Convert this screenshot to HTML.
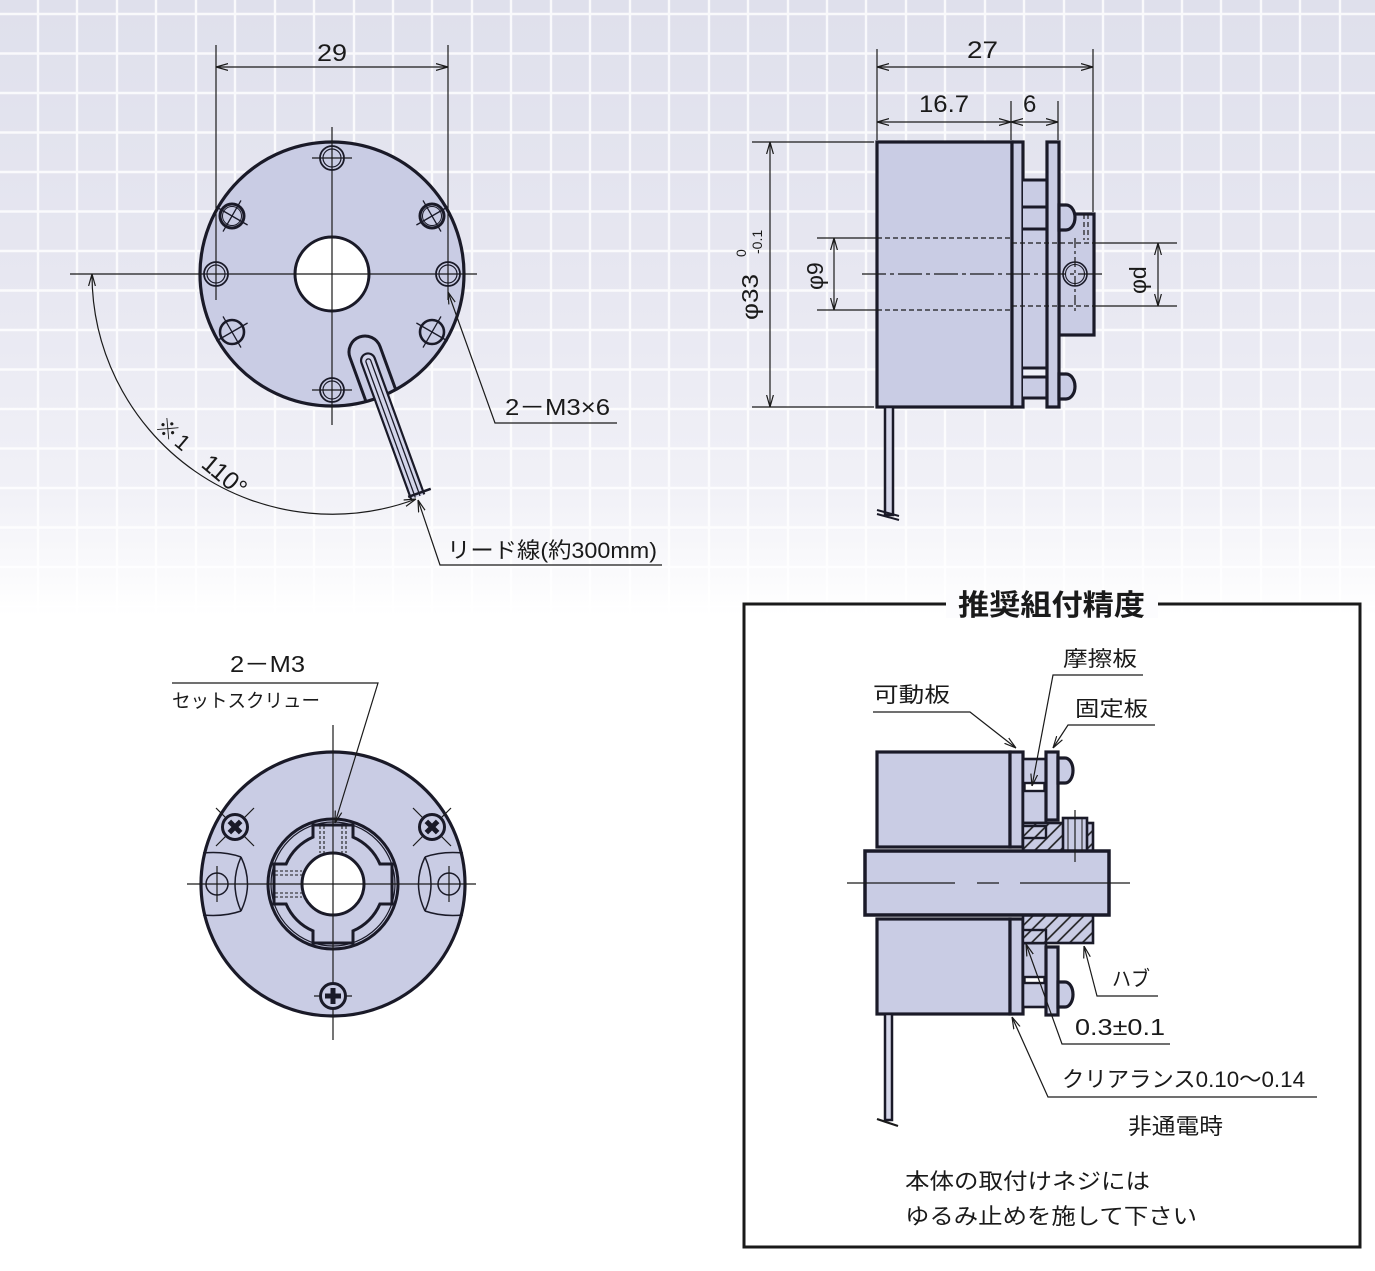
<!DOCTYPE html>
<html><head><meta charset="utf-8"><style>
html,body{margin:0;padding:0;background:#fff;}
svg{display:block;}
text{font-family:"Liberation Sans","Noto Sans CJK JP",sans-serif;fill:#1a1a1a;}
</style></head><body>
<svg width="1375" height="1271" viewBox="0 0 1375 1271" xmlns="http://www.w3.org/2000/svg">
<defs>
<linearGradient id="bg" x1="0" y1="0" x2="0" y2="1">
 <stop offset="0" stop-color="#dfe0ec"/>
 <stop offset="0.45" stop-color="#e7e7f1"/>
 <stop offset="0.8" stop-color="#f1f1f7"/>
 <stop offset="1" stop-color="#ffffff"/>
</linearGradient>
<marker id="ar" viewBox="0 0 12 8" refX="12" refY="4" markerWidth="12" markerHeight="8" markerUnits="userSpaceOnUse" orient="auto-start-reverse">
 <path d="M0,0.6 L12,4 L0,7.4" fill="none" stroke="#1a1a1a" stroke-width="1.2"/>
</marker>
<pattern id="hatch" patternUnits="userSpaceOnUse" width="9" height="9" patternTransform="rotate(45)">
 <rect width="9" height="9" fill="#c9cce4"/>
 <line x1="1" y1="0" x2="1" y2="9" stroke="#1a1a1a" stroke-width="1.6"/>
</pattern>
<clipPath id="c1"><circle cx="332" cy="274" r="131"/></clipPath>
</defs>

<!-- background -->
<rect width="1375" height="1271" fill="#fff"/>
<rect width="1375" height="616" fill="url(#bg)"/>
<path d="M38 0V616M77 0V616M117 0V616M156 0V616M196 0V616M235 0V616M275 0V616M314 0V616M354 0V616M393 0V616M432 0V616M472 0V616M511 0V616M551 0V616M590 0V616M630 0V616M669 0V616M709 0V616M748 0V616M788 0V616M827 0V616M866 0V616M906 0V616M945 0V616M985 0V616M1024 0V616M1064 0V616M1103 0V616M1143 0V616M1182 0V616M1221 0V616M1261 0V616M1300 0V616M1340 0V616
M0 14H1375M0 53.5H1375M0 93H1375M0 132.5H1375M0 172H1375M0 211.5H1375M0 251H1375M0 290.5H1375M0 330H1375M0 369.5H1375M0 409H1375M0 448.5H1375M0 488H1375M0 527.5H1375M0 567H1375M0 606.5H1375" stroke="#ffffff" stroke-width="2.4" opacity="0.8" fill="none"/>

<!-- ============ TOP-LEFT VIEW ============ -->
<circle cx="332" cy="274" r="132" fill="#c9cce4" stroke="#1a1a28" stroke-width="3.2"/>
<circle cx="332" cy="274" r="37" fill="#fff" stroke="#1a1a28" stroke-width="3"/>
<g clip-path="url(#c1)">
 <g transform="translate(365,352) rotate(-20)">
  <path d="M-16 90 V0 A16 16 0 0 1 16 0 V90" fill="none" stroke="#1a1a28" stroke-width="3"/>
 </g>
</g>
<!-- lead -->
<g transform="translate(365,352) rotate(-20)">
 <path d="M-7 154 V9 A7 7 0 0 1 7 9 V154" fill="#d3d5ea" stroke="#1a1a28" stroke-width="2.2"/>
 <path d="M-2.5 154 V10 A2.5 2.5 0 0 1 2.5 10 V154" fill="none" stroke="#1a1a28" stroke-width="1.3"/>
 <line x1="-9" y1="151" x2="15" y2="151" stroke="#1a1a28" stroke-width="2.5"/>
</g>
<!-- centerlines & dims -->
<g fill="none" stroke="#1a1a1a" stroke-width="1.2">
 <line x1="70" y1="274" x2="477" y2="274"/>
 <line x1="332" y1="127" x2="332" y2="425"/>
 <line x1="216" y1="45" x2="216" y2="300"/>
 <line x1="448" y1="45" x2="448" y2="300"/>
 <line x1="216" y1="67" x2="448" y2="67" marker-start="url(#ar)" marker-end="url(#ar)"/>
 <line x1="312" y1="158" x2="352" y2="158"/>
 <line x1="312" y1="390" x2="352" y2="390"/>
 <path d="M92 274 A240 240 0 0 0 416 499" marker-start="url(#ar)" marker-end="url(#ar)"/>
 <path d="M448 292 L495 423 H617" marker-start="url(#ar)"/>
 <path d="M418 500 L440 565 H662" marker-start="url(#ar)"/>
</g>
<!-- holes -->
<g fill="none" stroke="#1a1a28">
 <circle cx="332" cy="158" r="12" stroke-width="1.8"/><circle cx="332" cy="158" r="9" stroke-width="1.2"/>
 <circle cx="332" cy="390" r="12" stroke-width="1.8"/><circle cx="332" cy="390" r="9" stroke-width="1.2"/>
 <circle cx="216" cy="274" r="12" stroke-width="1.8"/><circle cx="216" cy="274" r="9" stroke-width="1.2"/>
 <circle cx="448" cy="274" r="12" stroke-width="1.8"/><circle cx="448" cy="274" r="9" stroke-width="1.2"/>
 <circle cx="232" cy="216" r="12" stroke-width="3"/><circle cx="232" cy="216" r="9.5" stroke-width="1"/>
 <circle cx="432" cy="216" r="12" stroke-width="3"/><circle cx="432" cy="216" r="9.5" stroke-width="1"/>
 <circle cx="232" cy="332" r="12" stroke-width="2.6"/>
 <circle cx="432" cy="332" r="12" stroke-width="2.6"/>
</g>
<g stroke="#1a1a28" stroke-width="1.3">
 <line x1="216.4" y1="207" x2="247.6" y2="225"/><line x1="241" y1="200.4" x2="223" y2="231.6"/>
 <line x1="447.6" y1="207" x2="416.4" y2="225"/><line x1="441" y1="231.6" x2="423" y2="200.4"/>
 <line x1="216.4" y1="341" x2="247.6" y2="323"/><line x1="241" y1="347.6" x2="223" y2="316.4"/>
 <line x1="447.6" y1="341" x2="416.4" y2="323"/><line x1="423" y1="347.6" x2="441" y2="316.4"/>
</g>
<text x="317" y="61" font-size="24" textLength="30" lengthAdjust="spacingAndGlyphs">29</text>
<text x="505" y="415" font-size="23" textLength="105" lengthAdjust="spacingAndGlyphs">2－M3×6</text>
<text x="447" y="558" font-size="22" textLength="210" lengthAdjust="spacingAndGlyphs">リード線(約300mm)</text>
<text transform="translate(154,428) rotate(40)" font-size="22" letter-spacing="3">※1</text>
<text transform="translate(200,466) rotate(40)" font-size="25">110°</text>

<!-- ============ TOP-RIGHT VIEW ============ -->
<g stroke="#1a1a28" stroke-width="3.2" fill="#c9cce4">
 <rect x="877" y="142" width="135" height="265"/>
 <rect x="1012" y="142" width="11" height="265"/>
 <rect x="1023" y="180" width="24" height="218" stroke="none"/>
 <rect x="1024" y="369" width="22" height="7" fill="#eef0f8" stroke="none"/>
 <path d="M1023 180H1047M1023 207H1047M1023 229H1047M1023 368H1047M1023 377H1047M1023 398H1047" fill="none" stroke-width="3"/>
 <rect x="1059" y="214" width="35" height="121"/>
 <rect x="1047" y="142" width="12" height="265"/>
 <path d="M1059 205 H1066 A9 12.5 0 0 1 1066 230 H1059 Z"/>
 <path d="M1059 374 H1066 A9 12.5 0 0 1 1066 399 H1059 Z"/>
 <rect x="885" y="407" width="8" height="108" fill="#d6d8ea" stroke-width="2.5"/>
</g>
<g fill="none" stroke="#1a1a28">
 <circle cx="1075" cy="274" r="12" stroke-width="1.6"/>
 <circle cx="1075" cy="274" r="9.5" stroke-width="1.1"/>
 <path d="M877 510 L899 516 M877 514 L899 520" stroke-width="2"/>
</g>
<g fill="none" stroke="#1a1a1a" stroke-width="1.2">
 <path d="M877 238H1012M877 310H1012M1012 243H1094M1012 306H1094M1084 214V240M1088 214V240" stroke-dasharray="5 3"/>
 <path d="M862 274H1104" stroke-dasharray="24 4 4 4"/>
 <path d="M1075 238V312" stroke-dasharray="10 3 3 3"/>
 <path d="M752 142H874M752 407H874M817 238H877M817 310H877M1094 243H1177M1094 306H1177"/>
 <path d="M877 49V140M1093 49V212M1011 101V140M1058 101V140"/>
 <path d="M877 67H1093" marker-start="url(#ar)" marker-end="url(#ar)"/>
 <path d="M877 122H1011" marker-start="url(#ar)" marker-end="url(#ar)"/>
 <path d="M1011 122H1058" marker-start="url(#ar)" marker-end="url(#ar)"/>
 <path d="M770 142V407" marker-start="url(#ar)" marker-end="url(#ar)"/>
 <path d="M834 238V310" marker-start="url(#ar)" marker-end="url(#ar)"/>
 <path d="M1158 243V306" marker-start="url(#ar)" marker-end="url(#ar)"/>
</g>
<text x="967" y="58" font-size="24" textLength="31" lengthAdjust="spacingAndGlyphs">27</text>
<text x="919" y="112" font-size="24" textLength="50" lengthAdjust="spacingAndGlyphs">16.7</text>
<text x="1023" y="112" font-size="24">6</text>
<g transform="translate(758,320) rotate(-90)">
 <text x="0" y="0" font-size="23" textLength="46" lengthAdjust="spacingAndGlyphs">φ33</text>
 <text x="63" y="-12" font-size="14">0</text>
 <text x="66" y="4" font-size="14">-0.1</text>
</g>
<text transform="translate(823,290) rotate(-90)" font-size="23">φ9</text>
<text transform="translate(1146,294) rotate(-90)" font-size="23">φd</text>

<!-- ============ BOTTOM-LEFT VIEW ============ -->
<circle cx="333" cy="884" r="132" fill="#c9cce4" stroke="#1a1a28" stroke-width="3.2"/>
<g fill="none" stroke="#1a1a28" stroke-width="1.5">
 <path d="M203 853 Q224 851 241 857 M203 915 Q224 917 241 911 M241 857 Q254 884 241 911 M241 857 Q229 884 241 911"/>
 <path d="M463 853 Q442 851 425 857 M463 915 Q442 917 425 911 M425 857 Q412 884 425 911 M425 857 Q437 884 425 911"/>
 <circle cx="217" cy="884" r="11"/>
 <circle cx="449" cy="884" r="11"/>
</g>
<circle cx="333" cy="884" r="65" fill="#c9cce4" stroke="#1a1a28" stroke-width="3"/>
<circle cx="333" cy="884" r="62" fill="none" stroke="#1a1a28" stroke-width="1.2"/>
<path d="M313 825 H353 V837.1 A51 51 0 0 1 379.9 864 H392 V904 H379.9 A51 51 0 0 1 353 930.9 V943 H313 V930.9 A51 51 0 0 1 286.1 904 H274 V864 H286.1 A51 51 0 0 1 313 837.1 Z" fill="#c9cce4" stroke="#1a1a28" stroke-width="3"/>
<g fill="none" stroke="#1a1a1a" stroke-width="1.1" stroke-dasharray="3 2">
 <path d="M320 826V853M324 826V853M342 826V853M346 826V853"/>
 <path d="M275 871H302M275 875H302M275 893H302M275 897H302"/>
</g>
<circle cx="333" cy="884" r="31" fill="#fff" stroke="#1a1a28" stroke-width="3"/>
<g fill="none" stroke="#1a1a1a" stroke-width="1.2">
 <line x1="187" y1="884" x2="476" y2="884"/>
 <line x1="333" y1="725" x2="333" y2="1040"/>
 <line x1="217" y1="866" x2="217" y2="902"/>
 <line x1="449" y1="866" x2="449" y2="902"/>
 <line x1="216" y1="808" x2="254" y2="846"/><line x1="254" y1="808" x2="216" y2="846"/>
 <line x1="413" y1="808" x2="451" y2="846"/><line x1="451" y1="808" x2="413" y2="846"/>
 <line x1="314" y1="996" x2="352" y2="996"/>
 <path d="M172 683 H378 L335 823" marker-end="url(#ar)"/>
</g>
<g stroke="#1a1a28">
 <circle cx="235" cy="827" r="12.5" fill="#c9cce4" stroke-width="3"/>
 <circle cx="432" cy="827" r="12.5" fill="#c9cce4" stroke-width="3"/>
 <circle cx="333" cy="996" r="12.5" fill="#c9cce4" stroke-width="3"/>
</g>
<g fill="#1a1a28">
 <g transform="translate(235 827) rotate(45)"><rect x="-8" y="-2.5" width="16" height="5"/><rect x="-2.5" y="-8" width="5" height="16"/></g>
 <g transform="translate(432 827) rotate(45)"><rect x="-8" y="-2.5" width="16" height="5"/><rect x="-2.5" y="-8" width="5" height="16"/></g>
 <g transform="translate(333 996)"><rect x="-8" y="-2.5" width="16" height="5"/><rect x="-2.5" y="-8" width="5" height="16"/></g>
</g>
<text x="230" y="672" font-size="23" textLength="75" lengthAdjust="spacingAndGlyphs">2－M3</text>
<text x="172" y="707" font-size="19" textLength="148" lengthAdjust="spacingAndGlyphs">セットスクリュー</text>

<!-- ============ BOX ============ -->
<rect x="744" y="604" width="616" height="643" fill="none" stroke="#1a1a1a" stroke-width="3"/>
<rect x="946" y="590" width="212" height="28" fill="#fcfcfe"/>
<text x="958" y="615" font-size="29" font-weight="bold" textLength="187" lengthAdjust="spacingAndGlyphs">推奨組付精度</text>

<g stroke="#1a1a28" stroke-width="3.2" fill="#c9cce4">
 <rect x="877" y="752" width="133" height="95"/>
 <rect x="1010" y="752" width="13" height="95"/>
 <rect x="877" y="919" width="133" height="95"/>
 <rect x="1010" y="919" width="13" height="95"/>
 <rect x="1023" y="759" width="23" height="64" stroke-width="2.6"/>
 <rect x="1024.5" y="783" width="20" height="8" fill="#fff" stroke-width="2.4"/>
 <rect x="1023" y="943" width="23" height="64" stroke-width="2.6"/>
 <rect x="1024.5" y="977" width="20" height="6" fill="#fff" stroke-width="2.4"/>
 <rect x="1046" y="752" width="12" height="68"/>
 <rect x="1046" y="947" width="12" height="68"/>
 <path d="M1058 758 H1065 A8 12.5 0 0 1 1065 783 H1058 Z"/>
 <path d="M1058 982 H1065 A8 12.5 0 0 1 1065 1007 H1058 Z"/>
 <rect x="1023" y="823" width="70" height="28" fill="url(#hatch)" stroke-width="2.6"/>
 <rect x="1023" y="826" width="23" height="12" fill="url(#hatch)" stroke-width="2.4"/>
 <rect x="1063" y="818" width="24" height="33" stroke-width="2.6"/>
 <rect x="1023" y="915" width="70" height="28" fill="url(#hatch)" stroke-width="2.6"/>
 <rect x="1023" y="930" width="23" height="13" fill="url(#hatch)" stroke-width="2.4"/>
 <rect x="865" y="851" width="244" height="64" stroke-width="3.5"/>
 <rect x="885" y="1014" width="7" height="106" fill="#d6d8ea" stroke-width="2.5"/>
</g>
<g fill="none" stroke="#1a1a1a" stroke-width="1.2">
 <path d="M1068 818V851M1082 818V851" stroke-width="1"/>
 <path d="M1075 810V862"/>
 <path d="M847 883H955M977 883H999M1020 883H1130"/>
 <path d="M877 1119 L898 1126" stroke-width="2.2"/>
 <path d="M873 712 H970 L1016 748" marker-end="url(#ar)"/>
 <path d="M1143 675 H1053 L1032 786" marker-end="url(#ar)"/>
 <path d="M1155 725 H1068 L1053 748" marker-end="url(#ar)"/>
 <path d="M1158 996 H1097 L1084 946" marker-end="url(#ar)"/>
 <path d="M1170 1044 H1062 L1026 944" marker-end="url(#ar)"/>
 <path d="M1317 1097 H1048 L1012 1017" marker-end="url(#ar)"/>
</g>
<text x="1063" y="666" font-size="21" textLength="74" lengthAdjust="spacingAndGlyphs">摩擦板</text>
<text x="873" y="702" font-size="21" textLength="77" lengthAdjust="spacingAndGlyphs">可動板</text>
<text x="1075" y="716" font-size="21" textLength="73" lengthAdjust="spacingAndGlyphs">固定板</text>
<text x="1112" y="986" font-size="21" textLength="38" lengthAdjust="spacingAndGlyphs">ハブ</text>
<text x="1075" y="1035" font-size="23" textLength="90" lengthAdjust="spacingAndGlyphs">0.3±0.1</text>
<text x="1062" y="1087" font-size="22" textLength="243" lengthAdjust="spacingAndGlyphs">クリアランス0.10〜0.14</text>
<text x="1128" y="1134" font-size="22" textLength="95" lengthAdjust="spacingAndGlyphs">非通電時</text>
<text x="905" y="1189" font-size="22" textLength="245" lengthAdjust="spacingAndGlyphs">本体の取付けネジには</text>
<text x="905" y="1224" font-size="22" textLength="292" lengthAdjust="spacingAndGlyphs">ゆるみ止めを施して下さい</text>
</svg>
</body></html>
